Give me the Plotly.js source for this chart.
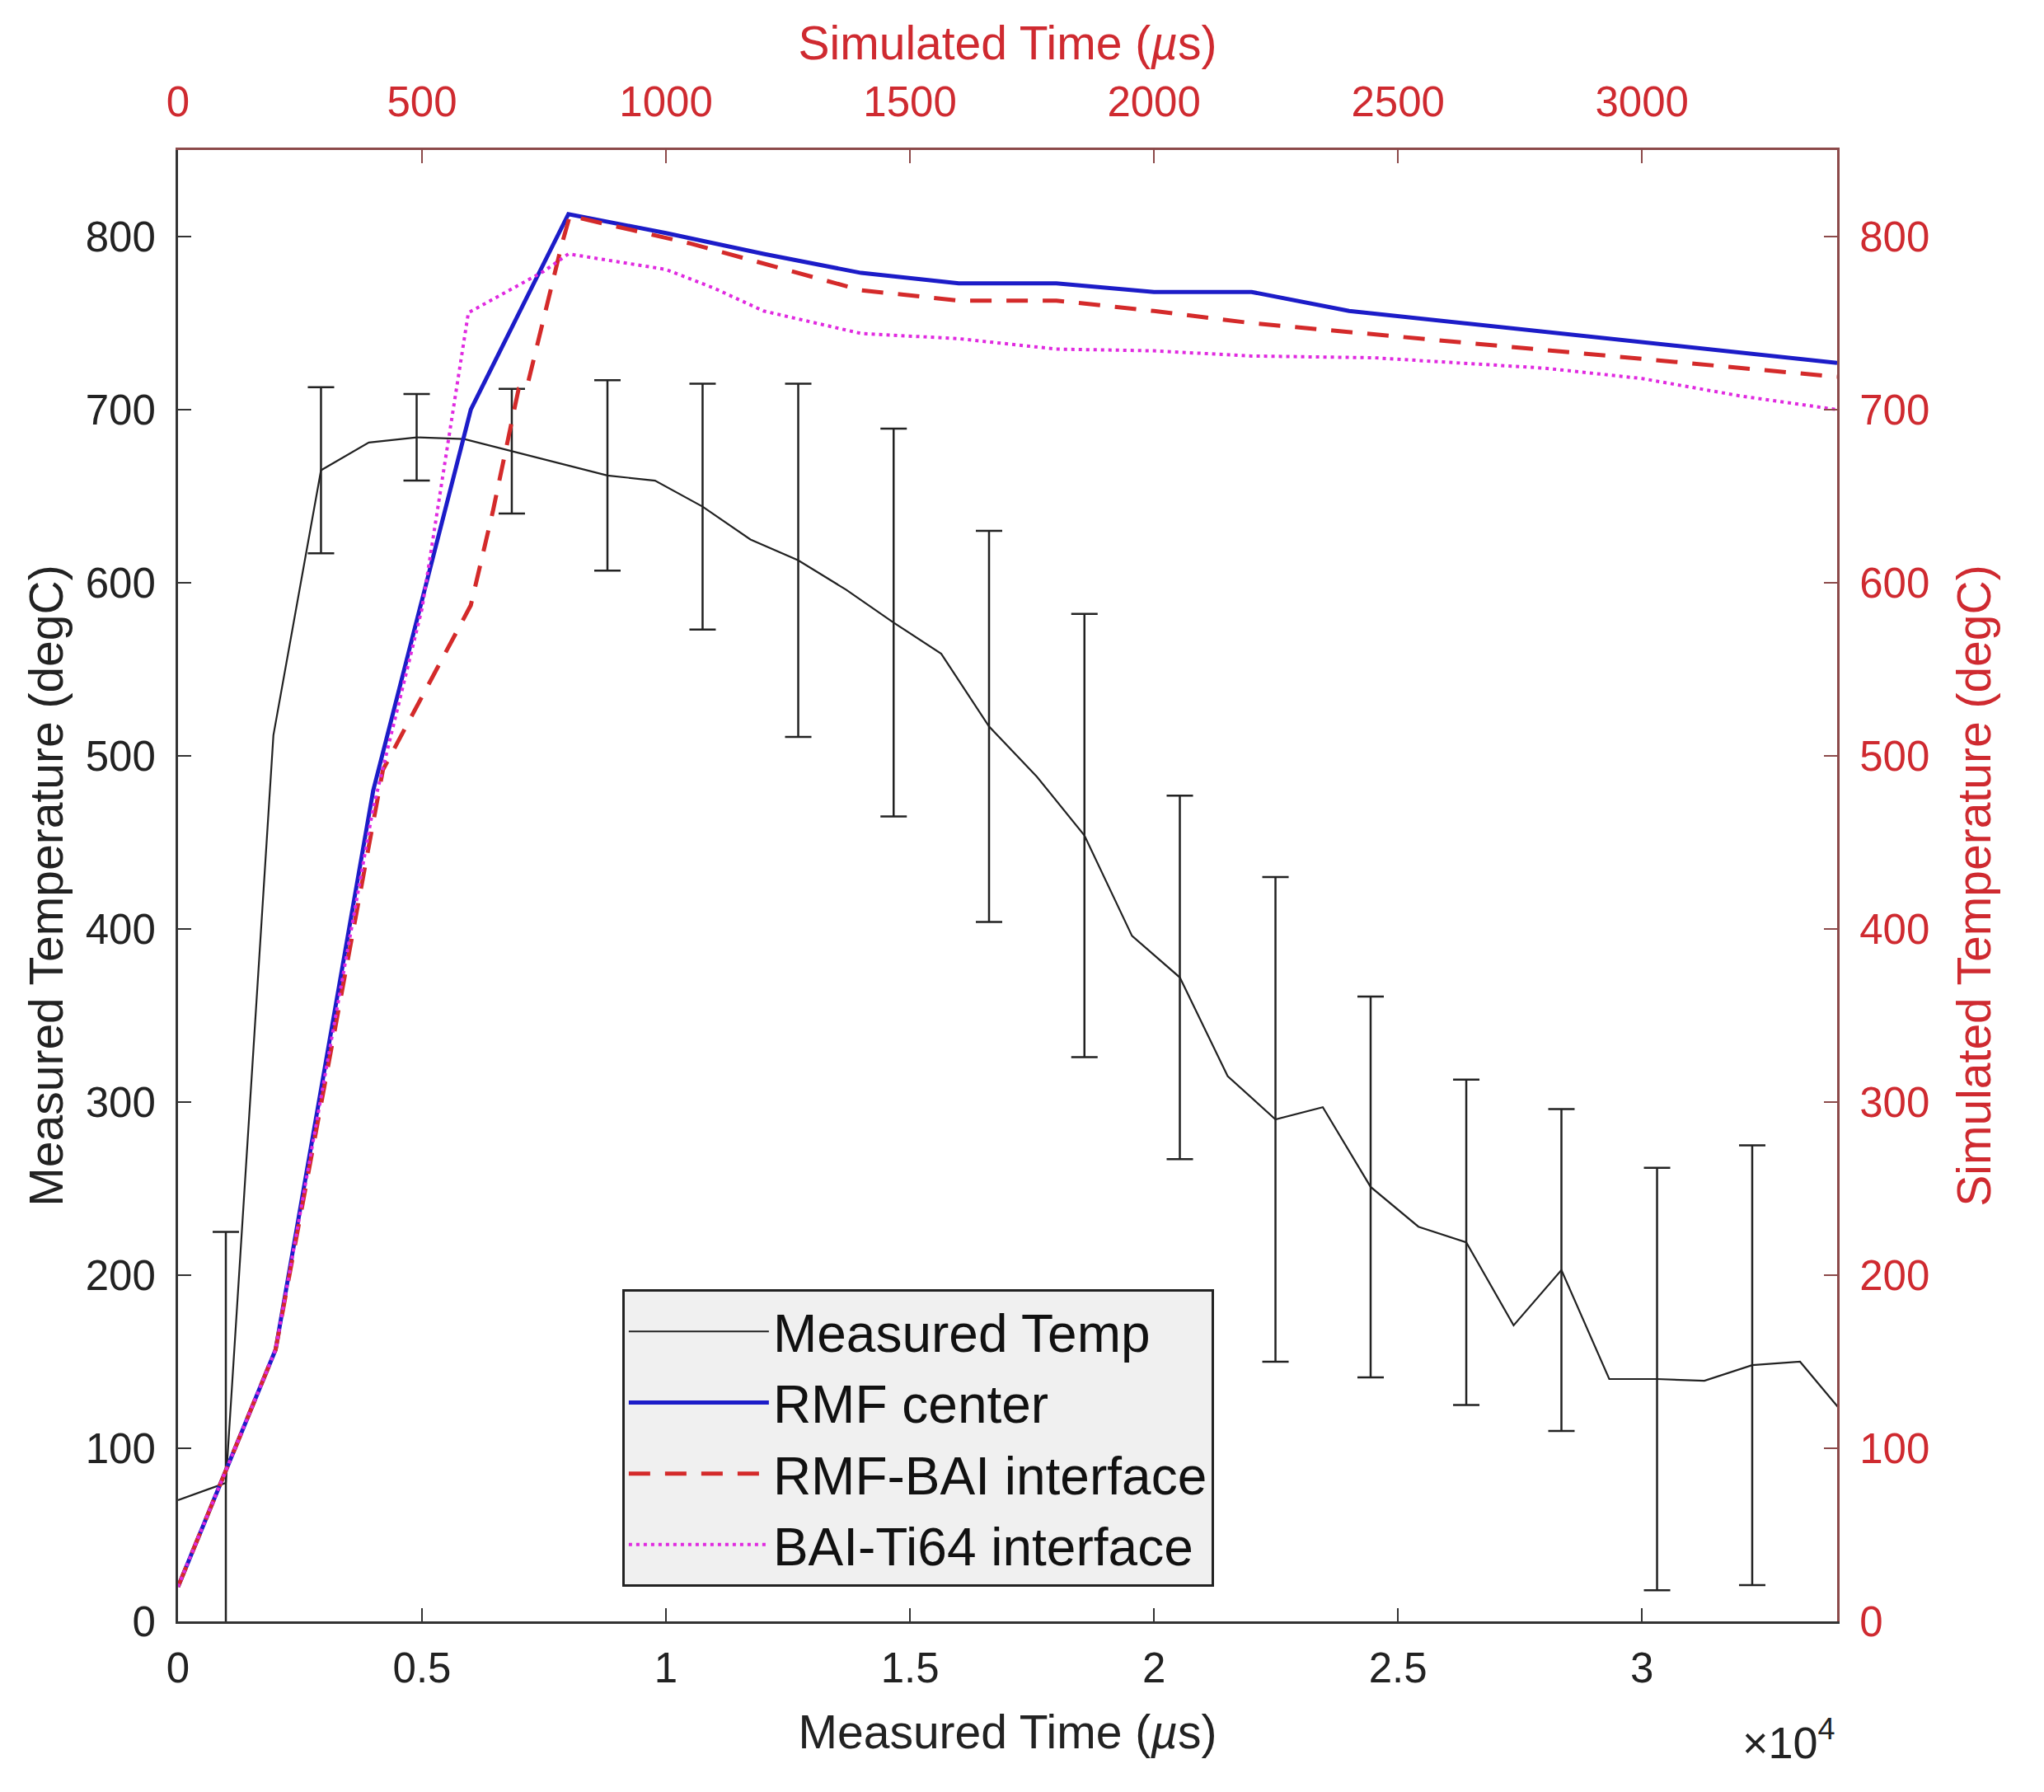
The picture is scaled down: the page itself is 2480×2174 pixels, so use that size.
<!DOCTYPE html>
<html>
<head>
<meta charset="utf-8">
<script src="https://cdn.plot.ly/plotly-3.0.1.min.js"></script>
<style>
  html, body { margin: 0; padding: 0; background: #ffffff; }
  #chart { width: 2480px; height: 2174px; }
</style>
</head>
<body>
<div id="chart"></div>
<script>
// Measured temperature (bottom / left axes), error bars on every other sample
const measTime = [0, 980, 1955, 2930, 3910, 4890, 5865, 6840, 7820, 8800, 9775, 10750,
  11730, 12710, 13690, 14665, 15640, 16620, 17600, 18575, 19550, 20530, 21510, 22490,
  23460, 24440, 25420, 26400, 27370, 28350, 29330, 30310, 31280, 32260, 33240, 34220];
const measTemp = [70, 80, 512, 665, 681, 684, 683, 676, 669, 662, 659, 644,
  625, 613, 596, 577, 559, 517, 488, 454, 396, 372, 315, 290,
  297, 251, 228, 219, 171, 203, 140, 140, 139, 148, 150, 117];
const measErr = [null, 145, null, 48, null, 25, null, 36, null, 55, null, 71,
  null, 102, null, 112, null, 113, null, 128, null, 105, null, 140,
  null, 110, null, 94, null, 93, null, 122, null, 127, null, null];

// Simulated temperatures (top / right axes)
const rmfTime = [0, 200, 400, 600, 800, 1000, 1200, 1400, 1600, 1800, 2000, 2200, 2400, 3400];
const rmfTemp = [20, 157, 480, 700, 813, 802, 790, 779, 773, 773, 768, 768, 757, 727];

const rmfBaiTime = [0, 200, 420, 600, 645, 698, 715, 786, 803, 1050, 1400, 1600, 1800, 2000, 2200, 3400];
const rmfBaiTemp = [20, 157, 492, 587, 641, 712, 713, 795, 812, 796, 769, 763, 763, 757, 750, 719];

const baiTiTime = [0, 200, 400, 500, 595, 750, 800, 1000, 1100, 1200, 1400, 1600, 1800, 2000, 2200, 2450, 2800, 3000, 3200, 3400];
const baiTiTemp = [20, 157, 470, 585, 756, 780, 790, 781, 770, 757, 744, 741, 735, 734, 731, 730, 724, 718, 708, 700];

const bottomTicks = [0, 5000, 10000, 15000, 20000, 25000, 30000];
const bottomLabels = ['0', '0.5', '1', '1.5', '2', '2.5', '3'];
const topTicks = [0, 500, 1000, 1500, 2000, 2500, 3000];
const tempTicks = [0, 100, 200, 300, 400, 500, 600, 700, 800];

// only the samples that carry an error bar
const hasErr = measErr.map(e => e !== null);
const errTime = measTime.filter((_, i) => hasErr[i]);
const errTemp = measTemp.filter((_, i) => hasErr[i]);
const errSize = measErr.filter((_, i) => hasErr[i]);

const FONT = 'Liberation Sans, Arial, Helvetica, sans-serif';
const RED = '#cf2a30';
const RED_LINE = '#8c4a4a';
const INK = '#222222';

const data = [
  {
    type: 'scatter', mode: 'lines', name: 'Measured Temp',
    x: measTime, y: measTemp, xaxis: 'x', yaxis: 'y',
    line: { color: INK, width: 2.2 }
  },
  {
    type: 'scatter', mode: 'markers', name: 'Measured error', showlegend: false,
    x: errTime, y: errTemp, xaxis: 'x', yaxis: 'y',
    marker: { size: 1, color: 'rgba(0,0,0,0)' },
    error_y: { type: 'data', array: errSize, visible: true, color: INK, thickness: 2.5, width: 16 }
  },
  {
    type: 'scatter', mode: 'lines', name: 'RMF center',
    x: rmfTime, y: rmfTemp, xaxis: 'x2', yaxis: 'y2',
    line: { color: '#1c1cc8', width: 5 }
  },
  {
    type: 'scatter', mode: 'lines', name: 'RMF-BAI interface',
    x: rmfBaiTime, y: rmfBaiTemp, xaxis: 'x2', yaxis: 'y2',
    line: { color: '#d42a2a', width: 5, dash: '26px,18px' }
  },
  {
    type: 'scatter', mode: 'lines', name: 'BAI-Ti64 interface',
    x: baiTiTime, y: baiTiTemp, xaxis: 'x2', yaxis: 'y2',
    line: { color: '#e02ae0', width: 4, dash: '4px,5px' }
  }
];

const tickFont = { family: FONT, size: 51, color: INK };
const redTickFont = { family: FONT, size: 51, color: RED };

const layout = {
  width: 2480, height: 2174,
  paper_bgcolor: '#ffffff', plot_bgcolor: '#ffffff',
  margin: { l: 216, r: 251, t: 182, b: 207, pad: 0 },
  showlegend: true,
  legend: {
    x: 0.2677, y: 0.2257, xanchor: 'left', yanchor: 'top',
    bgcolor: '#f0f0f0', bordercolor: INK, borderwidth: 3,
    font: { family: FONT, size: 64, color: '#111111' },
    itemwidth: 170, tracegroupgap: 0
  },
  xaxis: {
    range: [0, 34000], tickvals: bottomTicks, ticktext: bottomLabels,
    ticks: 'inside', ticklen: 16, tickwidth: 2, tickcolor: '#333333',
    showline: true, linecolor: '#333333', linewidth: 3,
    showgrid: false, zeroline: false, tickfont: tickFont, ticklabelstandoff: 10,
    title: { text: 'Measured Time (<i>µ</i>s)', font: { family: FONT, size: 57, color: INK }, standoff: 30 }
  },
  yaxis: {
    range: [0, 850], tickvals: tempTicks,
    ticks: 'inside', ticklen: 16, tickwidth: 2, tickcolor: '#333333',
    showline: true, linecolor: '#333333', linewidth: 3,
    showgrid: false, zeroline: false, tickfont: tickFont, ticklabelstandoff: 14,
    title: { text: 'Measured Temperature (degC)', font: { family: FONT, size: 57, color: INK }, standoff: 9 }
  },
  xaxis2: {
    overlaying: 'x', side: 'top', anchor: 'y2',
    range: [0, 3400], tickvals: topTicks,
    ticks: 'inside', ticklen: 16, tickwidth: 2, tickcolor: RED_LINE,
    showline: true, linecolor: RED_LINE, linewidth: 3,
    showgrid: false, zeroline: false, tickfont: redTickFont, ticklabelstandoff: 18,
    title: { text: 'Simulated Time (<i>µ</i>s)', font: { family: FONT, size: 57, color: RED }, standoff: 4 }
  },
  yaxis2: {
    overlaying: 'y', side: 'right', anchor: 'x2',
    range: [0, 850], tickvals: tempTicks,
    ticks: 'inside', ticklen: 16, tickwidth: 2, tickcolor: RED_LINE,
    showline: true, linecolor: RED_LINE, linewidth: 3,
    showgrid: false, zeroline: false, tickfont: redTickFont, ticklabelstandoff: 14,
    title: { text: 'Simulated Temperature (degC)', font: { family: FONT, size: 57, color: RED }, standoff: 35 }
  },
  annotations: [
    {
      xref: 'paper', yref: 'paper', x: 1, y: -0.08, xanchor: 'right', yanchor: 'middle',
      showarrow: false, text: '×10<sup>4</sup>',
      font: { family: FONT, size: 54, color: INK }
    }
  ]
};

Plotly.newPlot('chart', data, layout, { displayModeBar: false, staticPlot: true });
</script>
</body>
</html>
